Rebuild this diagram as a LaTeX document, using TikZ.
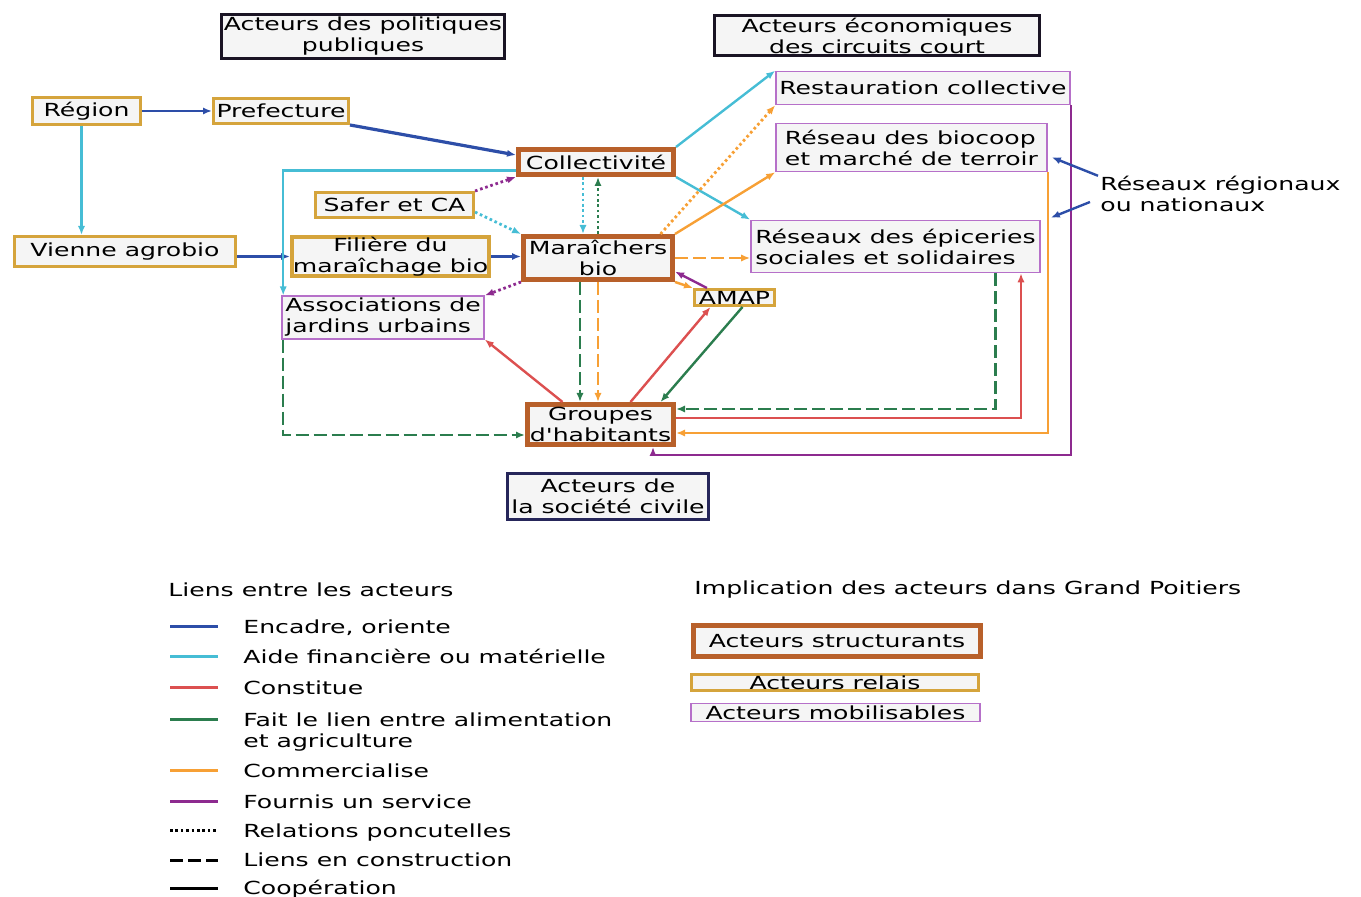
\documentclass[tikz,border=0pt]{standalone}
\usepackage{fontspec}
\setmainfont{DejaVu Sans}[FakeStretch=1.395,Ligatures=TeXOff]
\usetikzlibrary{arrows.meta,calc}
\definecolor{cEnc}{HTML}{2D4EA8}
\definecolor{cAide}{HTML}{46BDD5}
\definecolor{cConst}{HTML}{DC5050}
\definecolor{cLien}{HTML}{2B7D4E}
\definecolor{cComm}{HTML}{F7A035}
\definecolor{cServ}{HTML}{8D2A8F}
\definecolor{cStruct}{HTML}{B8602A}
\definecolor{cRelais}{HTML}{D5A43C}
\definecolor{cMob}{HTML}{B670C9}
\definecolor{cNavy}{HTML}{26265A}
\definecolor{cCat}{HTML}{1A1424}
\definecolor{boxfill}{HTML}{F5F5F5}
\tikzstyle{every node}=[font=\fontsize{9}{10.5}\selectfont]
\tikzstyle{box}=[draw,fill=boxfill,inner sep=1pt,align=center]
\tikzstyle{struct}=[box,draw=cStruct,line width=2.5pt]
\tikzstyle{relais}=[box,draw=cRelais,line width=1.5pt]
\tikzstyle{mobil}=[box,draw=cMob,line width=.8pt]
\tikzstyle{cat}=[box,draw=cCat,line width=1.5pt]
\tikzstyle{lk}=[line width=1.2pt,-{Latex[length=4.5pt,width=3.6pt]}]
\tikzstyle{enc}=[draw=cEnc]
\tikzstyle{aide}=[draw=cAide]
\tikzstyle{const}=[draw=cConst]
\tikzstyle{lien}=[draw=cLien]
\tikzstyle{comm}=[draw=cComm]
\tikzstyle{serv}=[draw=cServ]
\tikzstyle{coop}=[draw=black]
\tikzstyle{ponct}=[line width=1.4pt,dash pattern=on 1.3pt off 1.4pt]
\tikzstyle{constr}=[dash pattern=on 6.5pt off 2.5pt]

\begin{document}
\begin{tikzpicture}[x=.5pt,y=-.5pt]
\useasboundingbox (0,0) rectangle (1361,897);
% categories
\node[cat,minimum width=138.5pt,minimum height=22pt] (pol) at (363,36.5) {Acteurs des politiques\\publiques};
\node[cat,minimum width=162.5pt,minimum height=20pt] (eco) at (877,35.5) {Acteurs économiques\\des circuits court};
\node[cat,draw=cNavy,minimum width=100.5pt,minimum height=23pt] (civile) at (608,496.5) {Acteurs de\\la société civile};
% acteurs
\node[relais,minimum width=54pt,minimum height=13.5pt] (region) at (86.5,111) {Région};
\node[relais,minimum width=67.5pt,minimum height=12.5pt] (prefecture) at (281,111) {Prefecture};
\node[struct,minimum width=77.5pt,minimum height=12.5pt] (collectivite) at (596,162) {Collectivité};
\node[relais,minimum width=79pt,minimum height=12.5pt] (safer) at (394.5,205) {Safer et CA};
\node[relais,minimum width=110.5pt,minimum height=15pt] (vienne) at (125,251.5) {Vienne agrobio};
\node[relais,line width=2pt,minimum width=98.5pt,minimum height=17.5pt,inner sep=0pt] (filiere) at (390.5,256.5) {Filière du\\maraîchage bio};
\node[struct,minimum width=74.5pt,minimum height=21.5pt] (maraichers) at (598,258) {Maraîchers\\bio};
\node[mobil,align=left,minimum width=101pt,minimum height=19.75pt] (assoc) at (383,317.5) {Associations de\\jardins urbains};
\node[relais,minimum width=40pt,minimum height=8pt,inner sep=.5pt] (amap) at (734.5,297.5) {AMAP};
\node[mobil,minimum width=147pt,minimum height=16.5pt] (restauration) at (923,88) {Restauration collective};
\node[mobil,align=left,minimum width=135.5pt,minimum height=24pt] (biocoop) at (911.5,147.5) {Réseau des biocoop\\et marché de terroir};
\node[mobil,align=left,minimum width=144.5pt,minimum height=26pt] (epiceries) at (895.5,246.5) {Réseaux des épiceries\\sociales et solidaires};
\node[struct,minimum width=73pt,minimum height=20pt] (groupes) at (600.5,424.5) {Groupes\\d'habitants};
\node[align=left,anchor=west,inner sep=0pt] (reseaux) at (1100,194) {Réseaux régionaux\\ou nationaux};
% liens
\draw[lk,enc] (region) -- (prefecture);
\draw[lk,aide] ([xshift=-2.5pt]region.south) -- ([xshift=-2.5pt]region.south |- vienne.north);
\draw[lk,enc,line width=1.6pt] (prefecture.south east) -- (collectivite.175);
\draw[lk,enc,line width=1.9pt] (vienne.east |- filiere) -- (filiere.west);
\draw[lk,enc] (filiere.east) -- (filiere.east -| maraichers.west);
\draw[lk,aide] (collectivite.186) -| ([xshift=1pt]assoc.north west);
\draw[lk,serv,ponct] (safer.north east) -- (collectivite.south west);
\draw[lk,aide,ponct] (safer.-5) -- (maraichers.north west);
\draw[lk,aide,ponct] ([xshift=-6.5pt]collectivite.south) -- ([xshift=-6.5pt]collectivite.south |- maraichers.north);
\draw[lk,lien,ponct] (maraichers.north) -- (maraichers.north |- collectivite.south);
\draw[lk,serv,ponct] (maraichers.south west) -- (assoc.north east);
\draw[lk,aide] (collectivite.north east) -- (restauration.north west);
\draw[lk,aide] (collectivite.south east) -- (epiceries.north west);
\draw[lk,comm,ponct] (maraichers.21) -- (restauration.south west);
\draw[lk,comm] (maraichers.north east) -- (biocoop.south west);
\draw[lk,comm,constr] (maraichers.east) -- (maraichers.east -| epiceries.west);
\draw[lk,serv] (amap.161) -- (maraichers.-10);
\draw[lk,comm] (maraichers.south east) -- (amap.north west);
\draw[lk,lien,constr] ([xshift=-9pt]maraichers.south) -- ([xshift=-9pt]maraichers.south |- groupes.north);
\draw[lk,comm,constr] (maraichers.south) -- (maraichers.south |- groupes.north);
\draw[lk,const] ([xshift=-19pt]groupes.north) -- (assoc.south east);
\draw[lk,const] ([xshift=15pt]groupes.north) -- ([xshift=-12pt]amap.south);
\draw[lk,lien] ([xshift=4pt]amap.south) -- ([xshift=30pt]groupes.north);
\draw[lk,lien,constr] ([xshift=50pt]epiceries.south) |- ([yshift=7.75pt]groupes.east);
\draw[lk,const] ([yshift=3.25pt]groupes.east) -| ([xshift=62.75pt]epiceries.south);
\draw[lk,comm] (biocoop.south east) |- ([yshift=-4.25pt]groupes.east);
\draw[lk,serv] (restauration.south east) |- ([xshift=26.25pt,yshift=-4pt]groupes.south) -- ([xshift=26.25pt]groupes.south);
\draw[lk,lien,constr] ([xshift=1pt]assoc.south west) |- ([yshift=-5.25pt]groupes.west);
\draw[lk,enc] ($(reseaux.north west)+(-2,0)$) -- ($(biocoop.south east)+(4,-15)$);
\draw[lk,enc] ($(reseaux.west)+(-10,8)$) -- ($(epiceries.north east)+(10,-2)$);
% legende
\node[anchor=west,inner sep=0pt] (liens) at (168,590) {Liens entre les acteurs};
\node[anchor=west,inner sep=0pt] (implic) at (694,590) {Implication des acteurs dans Grand Poitiers};
\foreach \y/\s/\t in {627/enc/{Encadre, oriente},657/aide/{Aide financière ou matérielle},688/const/Constitue,720/lien/{Fait le lien entre alimentation\\et agriculture},771/comm/Commercialise,802/serv/{Fournis un service},831/ponct/{Relations poncutelles},860/constr/{Liens en construction},888/coop/Coopération}{
  \draw[\s,line width=1.5pt] (170,\y) -- (218,\y);
  \node[anchor=north west,align=left,inner sep=0pt] at (243,\y-8) {\t};
}
\node[struct,minimum width=143.5pt,minimum height=15.5pt] (lgstruct) at (837,641) {Acteurs structurants};
\node[relais,minimum width=143.5pt,minimum height=8pt,inner sep=.5pt] (lgrelais) at (835,682.5) {Acteurs relais};
\node[mobil,minimum width=144.5pt,minimum height=9pt,inner sep=.5pt] (lgmob) at (835.5,712.5) {Acteurs mobilisables};
\end{tikzpicture}
\end{document}
